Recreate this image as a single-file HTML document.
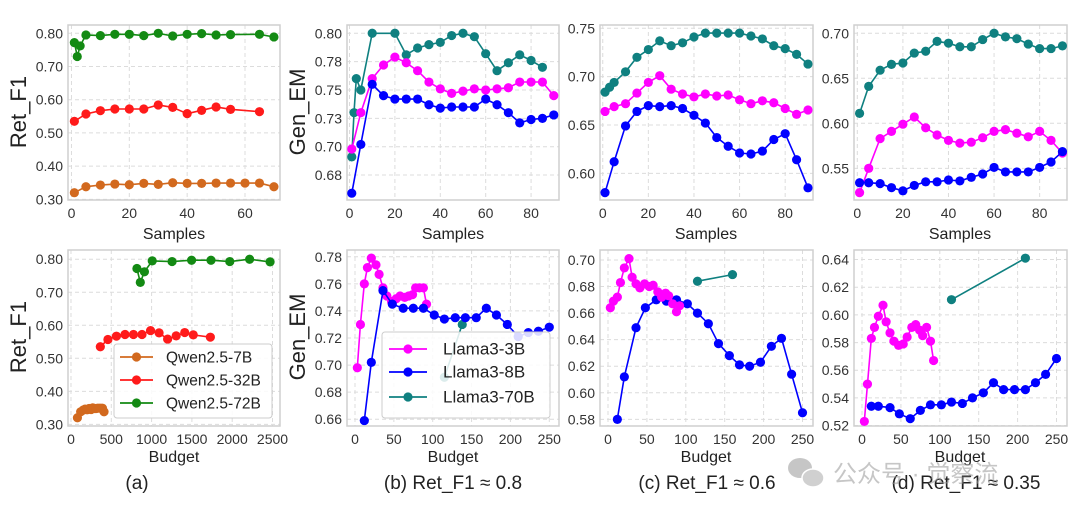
<!DOCTYPE html>
<html><head><meta charset="utf-8">
<style>
html,body{margin:0;padding:0;background:#fff;}
svg{display:block;font-family:"Liberation Sans","Noto Sans CJK SC",sans-serif;}
</style></head>
<body>
<svg id="fig" width="1080" height="516" viewBox="0 0 1080 516" xmlns="http://www.w3.org/2000/svg"></svg>
<script>
// ---------- data ----------
const samplesA7 = [1,5,10,15,20,25,30,35,40,45,50,55,60,65,70];
const retA7 = [0.32,0.338,0.343,0.346,0.344,0.348,0.345,0.35,0.348,0.348,0.349,0.349,0.349,0.349,0.338];
const samplesA32 = [1,5,10,15,20,25,30,35,40,45,50,55,65];
const retA32 = [0.535,0.557,0.567,0.572,0.572,0.572,0.584,0.577,0.558,0.568,0.578,0.571,0.564];
const samplesA72 = [1,2,3,5,10,15,20,25,30,35,40,45,50,55,65,70];
const retA72 = [0.772,0.73,0.762,0.795,0.793,0.797,0.797,0.793,0.800,0.792,0.797,0.799,0.795,0.796,0.797,0.789];
const budgetA7 = [80,120,150,175,200,225,250,270,290,310,330,350,370,390,410];
const budgetA32 = [364,458,564,670,775,881,987,1093,1199,1305,1411,1517,1729];
const budgetA72 = [818,860,911,1008,1254,1496,1737,1970,2216,2470];
const retA72b = [0.772,0.73,0.762,0.795,0.793,0.797,0.797,0.793,0.800,0.792];

const samplesL = [1,5,10,15,20,25,30,35,40,45,50,55,60,65,70,75,80,85,90];
const samplesB70 = [1,2,3,5,10,20,25,30,35,40,45,50,55,60,65,70,75,80,85];
const emB70 = [0.691,0.730,0.760,0.750,0.800,0.800,0.781,0.787,0.790,0.792,0.798,0.800,0.797,0.782,0.767,0.774,0.781,0.776,0.770];
const emB3 = [0.698,0.730,0.760,0.772,0.779,0.774,0.767,0.757,0.751,0.747,0.749,0.751,0.750,0.751,0.752,0.757,0.757,0.757,0.745];
const emB8 = [0.659,0.702,0.755,0.745,0.742,0.742,0.742,0.737,0.734,0.735,0.735,0.735,0.742,0.737,0.730,0.721,0.724,0.725,0.728];

const samplesC70 = [1,3,5,10,15,20,25,30,35,40,45,50,55,60,65,70,75,80,85,90];
const emC70 = [0.684,0.689,0.694,0.705,0.720,0.728,0.737,0.732,0.735,0.741,0.745,0.745,0.745,0.745,0.742,0.739,0.732,0.729,0.723,0.713];
const emC3 = [0.664,0.669,0.672,0.683,0.694,0.701,0.687,0.682,0.679,0.682,0.680,0.681,0.676,0.672,0.675,0.673,0.667,0.661,0.6655];
const emC8 = [0.580,0.612,0.649,0.664,0.670,0.669,0.670,0.667,0.660,0.652,0.637,0.628,0.621,0.620,0.623,0.635,0.641,0.614,0.585];

const emD70 = [0.611,0.641,0.659,0.6655,0.667,0.678,0.680,0.691,0.689,0.685,0.685,0.693,0.700,0.696,0.694,0.688,0.683,0.683,0.686];
const emD3 = [0.523,0.550,0.583,0.591,0.599,0.607,0.595,0.587,0.581,0.578,0.579,0.584,0.591,0.593,0.589,0.585,0.591,0.581,0.567];
const emD8 = [0.534,0.534,0.533,0.5285,0.525,0.531,0.535,0.535,0.537,0.536,0.540,0.5437,0.551,0.546,0.546,0.546,0.551,0.557,0.5685];

const budget3 = [3,7,12,16,21,27,31,36,41,47,53,58,64,69,74,78,83,88,92];
const budget8 = [12,21,36,48,62,75,88,102,115,129,142,156,169,182,196,210,223,236,250];
const budgetB70 = [115,138];
const emB70b = [0.691,0.730];
const budgetC70 = [115,160];
const emC70b = [0.684,0.689];
const budgetD70 = [115,210];
const emD70b = [0.611,0.641];

const ticksSamplesA = [0,20,40,60];
const ticksSamples = [0,20,40,60,80];
const ticksBudgetA = [0,500,1000,1500,2000,2500];
const ticksBudget = [0,50,100,150,200,250];
const ticksRet = [0.3,0.4,0.5,0.6,0.7,0.8];
const labelsRet = ["0.30","0.40","0.50","0.60","0.70","0.80"];
const ticksBTop = [0.675,0.7,0.725,0.75,0.775,0.8];
const labelsBTop = ["0.68","0.70","0.73","0.75","0.78","0.80"];
const ticksCTop = [0.6,0.65,0.7,0.75];
const labelsCTop = ["0.60","0.65","0.70","0.75"];
const ticksDTop = [0.55,0.6,0.65,0.7];
const labelsDTop = ["0.55","0.60","0.65","0.70"];
const ticksBBot = [0.66,0.68,0.7,0.72,0.74,0.76,0.78];
const ticksCBot = [0.58,0.6,0.62,0.64,0.66,0.68,0.7];
const ticksDBot = [0.52,0.54,0.56,0.58,0.6,0.62,0.64];

// ---------- drawing ----------
const NS = "http://www.w3.org/2000/svg";
const svg = document.getElementById('fig');
function mk(tag, attrs, parent){
  const e = document.createElementNS(NS, tag);
  for (const k in attrs) e.setAttribute(k, attrs[k]);
  (parent||svg).appendChild(e);
  return e;
}
const C7='#d2691e', C32='#ff1a1a', C72='#138a13', CM='#ff00ff', CB='#0000ff', CT='#0f8080';

function panel(name, box, xr, yr, xt, xl, yt, yl) {
  const g = mk('g', {});
  
  
  const sx = v => box.x0 + (v - xr[0]) / (xr[1] - xr[0]) * (box.x1 - box.x0);
  const sy = v => box.y1 - (v - yr[0]) / (yr[1] - yr[0]) * (box.y1 - box.y0);
  mk('rect', {x:box.x0, y:box.y0, width:box.x1-box.x0, height:box.y1-box.y0, fill:'#fff'}, g);
  xt.forEach((t,i) => {
    const x = sx(t);
    const gl = mk('line', {x1:x, x2:x, y1:box.y0, y2:box.y1, stroke:'#dcdcdc', 'stroke-width':1, 'stroke-dasharray':'4,3'}, g);
    
    
    const tx = mk('text', {x:x, y:box.y1+18, 'text-anchor':'middle', 'font-size':14, fill:'#333'}, g);
    tx.textContent = xl[i];
    
    
  });
  yt.forEach((t,i) => {
    const y = sy(t);
    const gl = mk('line', {x1:box.x0, x2:box.x1, y1:y, y2:y, stroke:'#dcdcdc', 'stroke-width':1, 'stroke-dasharray':'4,3'}, g);
    
    
    const tx = mk('text', {x:box.x0-5, y:y+5, 'text-anchor':'end', 'font-size':14, fill:'#333'}, g);
    tx.textContent = yl[i];
    
    
  });
  const fr = mk('rect', {x:box.x0, y:box.y0, width:box.x1-box.x0, height:box.y1-box.y0, fill:'none', stroke:'#cfcfcf', 'stroke-width':1.5}, g);
  
  
  return {g, sx, sy};
}
function series(p, name, xs, ys, color) {
  const sg = mk('g', {}, p.g);
  
  
  const pts = xs.map((x,i) => p.sx(x).toFixed(1) + ',' + p.sy(ys[i]).toFixed(1)).join(' ');
  mk('polyline', {points:pts, fill:'none', stroke:color, 'stroke-width':1.6}, sg);
  xs.forEach((x,i) => {
    const c = mk('circle', {cx:p.sx(x), cy:p.sy(ys[i]), r:4.6, fill:color}, sg);
    
    
  });
}
function text(name, x, y, s, size, anchor, extra) {
  const t = mk('text', Object.assign({x:x, y:y, 'font-size':size, 'text-anchor':anchor||'middle', fill:'#222'}, extra||{}));
  t.textContent = s;
  
  
  return t;
}

const fmt0 = v => String(v);
const topBox = {y0:25, y1:200};
const botBox = {y0:250, y1:426};
function bx(x0, x1, r){ return {x0:x0, x1:x1, y0:r.y0, y1:r.y1}; }

const pA = panel('panel-a-samples', bx(68,280,topBox), [-1.2,72.1], [0.298,0.825], ticksSamplesA, ticksSamplesA.map(fmt0), ticksRet, labelsRet);
series(pA, 'series-qwen-7b', samplesA7, retA7, C7);
series(pA, 'series-qwen-32b', samplesA32, retA32, C32);
series(pA, 'series-qwen-72b', samplesA72, retA72, C72);

const pB = panel('panel-b-samples', bx(347,559,topBox), [-1.1,92.3], [0.653,0.8073], ticksSamples, ticksSamples.map(fmt0), ticksBTop, labelsBTop);
series(pB, 'series-llama-70b', samplesB70, emB70, CT);
series(pB, 'series-llama-3b', samplesL, emB3, CM);
series(pB, 'series-llama-8b', samplesL, emB8, CB);

const pC = panel('panel-c-samples', bx(600,813,topBox), [-1.2,92.2], [0.5724,0.7534], ticksSamples, ticksSamples.map(fmt0), ticksCTop, labelsCTop);
series(pC, 'series-llama-70b', samplesC70, emC70, CT);
series(pC, 'series-llama-3b', samplesL, emC3, CM);
series(pC, 'series-llama-8b', samplesL, emC8, CB);

const pD = panel('panel-d-samples', bx(854,1067,topBox), [-1.45,92], [0.5148,0.7092], ticksSamples, ticksSamples.map(fmt0), ticksDTop, labelsDTop);
series(pD, 'series-llama-70b', samplesL, emD70, CT);
series(pD, 'series-llama-3b', samplesL, emD3, CM);
series(pD, 'series-llama-8b', samplesL, emD8, CB);

const pA2 = panel('panel-a-budget', bx(68,280,botBox), [-37,2593], [0.295,0.828], ticksBudgetA, ticksBudgetA.map(fmt0), ticksRet, labelsRet);
series(pA2, 'series-qwen-7b', budgetA7, retA7, C7);
series(pA2, 'series-qwen-32b', budgetA32, retA32, C32);
series(pA2, 'series-qwen-72b', budgetA72, retA72b, C72);

const yl2 = a => a.map(v => v.toFixed(2));
const pB2 = panel('panel-b-budget', bx(347,559,botBox), [-10.3,262.5], [0.655,0.785], ticksBudget, ticksBudget.map(fmt0), ticksBBot, yl2(ticksBBot));
series(pB2, 'series-llama-70b', budgetB70, emB70b, CT);
series(pB2, 'series-llama-3b', budget3, emB3, CM);
series(pB2, 'series-llama-8b', budget8, emB8, CB);

const pC2 = panel('panel-c-budget', bx(600,813,botBox), [-10.3,263.5], [0.575,0.7075], ticksBudget, ticksBudget.map(fmt0), ticksCBot, yl2(ticksCBot));
series(pC2, 'series-llama-70b', budgetC70, emC70b, CT);
series(pC2, 'series-llama-8b', budget8, emC8, CB);
series(pC2, 'series-llama-3b', budget3, emC3, CM);

const pD2 = panel('panel-d-budget', bx(854,1067,botBox), [-10.3,263.5], [0.5197,0.6469], ticksBudget, ticksBudget.map(fmt0), ticksDBot, yl2(ticksDBot));
series(pD2, 'series-llama-70b', budgetD70, emD70b, CT);
series(pD2, 'series-llama-3b', budget3, emD3, CM);
series(pD2, 'series-llama-8b', budget8, emD8, CB);

[[174,'x-axis-title-a'],[453,'x-axis-title-b'],[706,'x-axis-title-c'],[960,'x-axis-title-d']].forEach(([x,n]) => {
  text(n, x, 239, 'Samples', 16);
  text(n + '-budget', x, 462, 'Budget', 16);
});
text('y-axis-title-a', 0, 0, 'Ret_F1', 22, 'middle', {transform:'translate(26,112) rotate(-90)'});
text('y-axis-title-b', 0, 0, 'Gen_EM', 22, 'middle', {transform:'translate(305,112) rotate(-90)'});
text('y-axis-title-a-budget', 0, 0, 'Ret_F1', 22, 'middle', {transform:'translate(26,337) rotate(-90)'});
text('y-axis-title-b-budget', 0, 0, 'Gen_EM', 22, 'middle', {transform:'translate(305,337) rotate(-90)'});

function legend(name, x0, y0, w, h, entries, fs, lx0, lx1, tx) {
  const g = mk('g', {});
  
  
  mk('rect', {x:x0, y:y0, width:w, height:h, rx:3, fill:'#fff', 'fill-opacity':0.85, stroke:'#cccccc', 'stroke-width':1}, g);
  entries.forEach(([lbl, col, y]) => {
    const eg = mk('g', {}, g);
    
    
    mk('line', {x1:lx0, x2:lx1, y1:y, y2:y, stroke:col, 'stroke-width':1.8}, eg);
    mk('circle', {cx:(lx0+lx1)/2, cy:y, r:4.6, fill:col}, eg);
    const t = mk('text', {x:tx, y:y+5.5, 'font-size':fs, fill:'#222'}, eg);
    t.textContent = lbl;
  });
}
legend('legend-qwen', 114, 344, 158, 74, [['Qwen2.5-7B',C7,357],['Qwen2.5-32B',C32,380],['Qwen2.5-72B',C72,403]], 15.5, 120, 153, 166);
legend('legend-llama', 382, 332, 168, 86, [['Llama3-3B',CM,349],['Llama3-8B',CB,372],['Llama3-70B',CT,397]], 17, 389, 427, 443);

text('caption-a', 137, 489, '(a)', 19);
text('caption-b', 453, 489, '(b) Ret_F1 \u2248 0.8', 19);
text('caption-c', 707, 489, '(c) Ret_F1 \u2248 0.6', 19);
text('caption-d', 966, 489, '(d) Ret_F1 \u2248 0.35', 19);

const wm = mk('g', {opacity:0.55});


mk('ellipse', {cx:800, cy:468, rx:12, ry:10, fill:'#999'}, wm);
mk('ellipse', {cx:813, cy:478, rx:11, ry:9, fill:'#aaa', stroke:'#fff', 'stroke-width':1.5}, wm);
const wt = mk('text', {x:833, y:482, 'font-size':24, fill:'#999'}, wm);
wt.textContent = '公众号 · 觉察流';
</script>
</body></html>
